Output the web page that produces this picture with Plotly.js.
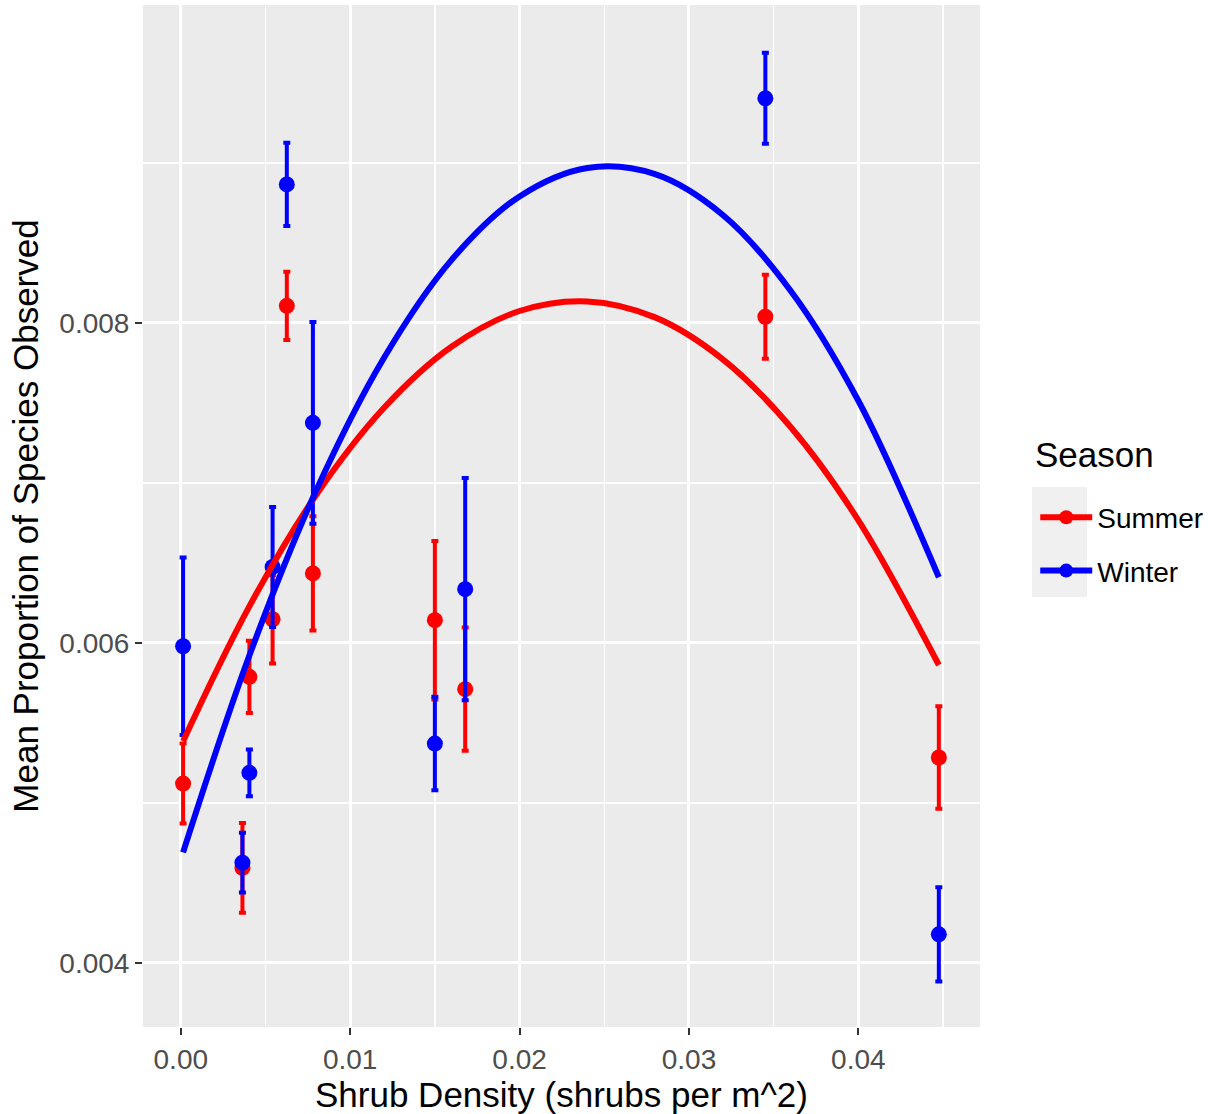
<!DOCTYPE html>
<html>
<head>
<meta charset="utf-8">
<script src="https://cdn.plot.ly/plotly-3.0.1.min.js"></script>
<style>html,body{margin:0;padding:0;background:#fff;}#chart{width:1219px;height:1114px;}</style>
</head>
<body>
<div id="chart"></div>
<script>
// Shrub density of each site (shrubs per m^2)
const density = [0.000136, 0.00364, 0.00405, 0.00542, 0.00626, 0.0078, 0.0150, 0.01679, 0.03451, 0.04475];
// Mean proportion of species observed and error half-widths
const summerMean = [0.005121, 0.004594, 0.005788, 0.006148, 0.008106, 0.006434, 0.006142, 0.005711, 0.008038, 0.005284];
const summerErr  = [0.000250, 0.000280, 0.000226, 0.000277, 0.000213, 0.000357, 0.000495, 0.000385, 0.000262, 0.000320];
const winterMean = [0.005979, 0.004627, 0.005188, 0.006475, 0.008865, 0.007375, 0.005371, 0.006336, 0.009403, 0.004179];
const winterErr  = [0.000555, 0.000186, 0.000146, 0.000375, 0.000260, 0.000630, 0.000292, 0.000695, 0.000284, 0.000294];
// Fitted (quadratic) smooth curves
const curveX      = [0.000136, 0.004, 0.008, 0.012, 0.016, 0.020, 0.024, 0.028, 0.032, 0.036, 0.040, 0.04475];
const summerCurve = [0.005386, 0.006219, 0.006926, 0.007469, 0.007852, 0.008074, 0.008134, 0.008034, 0.007772, 0.007349, 0.006766, 0.005862];
const winterCurve = [0.004691, 0.005907, 0.006954, 0.007782, 0.008395, 0.008790, 0.008968, 0.008929, 0.008674, 0.008201, 0.007513, 0.006410];
const seasons = ["Summer", "Winter"];
const colors = {Summer: "#FF0000", Winter: "#0000FF"};

const FONT = "Liberation Sans, Arial, Helvetica, sans-serif";

function pointTrace(name, mean, err) {
  return {
    type: "scatter", mode: "markers", name: name, x: density, y: mean,
    showlegend: false,
    marker: {color: colors[name], size: 16},
    error_y: {type: "data", array: err, visible: true, color: colors[name], thickness: 4, width: 3.5},
    hoverinfo: "x+y"
  };
}
function curveTrace(name, ys) {
  return {
    type: "scatter", mode: "lines", name: name, x: curveX, y: ys, showlegend: false,
    line: {color: colors[name], width: 6, shape: "spline"}, hoverinfo: "skip"
  };
}
function legendTrace(name) {
  return {
    type: "scatter", mode: "lines+markers", name: name, x: [null], y: [null],
    legendgroup: name, showlegend: true,
    line: {color: colors[name], width: 6}, marker: {color: colors[name], size: 14}
  };
}

const data = [
  pointTrace("Summer", summerMean, summerErr),
  pointTrace("Winter", winterMean, winterErr),
  curveTrace("Summer", summerCurve),
  curveTrace("Winter", winterCurve),
  legendTrace(seasons[0]),
  legendTrace(seasons[1])
];

const layout = {
  width: 1219, height: 1114,
  margin: {l: 143, r: 239, t: 5, b: 87, pad: 0},
  paper_bgcolor: "#FFFFFF",
  plot_bgcolor: "#EBEBEB",
  font: {family: FONT, size: 28, color: "#4D4D4D"},
  xaxis: {
    range: [-0.00223, 0.04718], dtick: 0.01, tick0: 0, tickformat: ".2f",
    showgrid: true, gridcolor: "#FFFFFF", gridwidth: 3, zeroline: false,
    ticks: "outside", ticklen: 7, tickwidth: 2, tickcolor: "#333333",
    tickfont: {family: FONT, size: 28, color: "#4D4D4D"},
    minor: {dtick: 0.005, showgrid: true, gridcolor: "#FFFFFF", gridwidth: 1.5},
    showline: false,
    title: {text: "Shrub Density (shrubs per m^2)", font: {family: FONT, size: 35, color: "#000000"}, standoff: 6}
  },
  yaxis: {
    range: [0.00360, 0.009986], dtick: 0.002, tick0: 0, tickformat: ".3f",
    showgrid: true, gridcolor: "#FFFFFF", gridwidth: 3, zeroline: false,
    ticks: "outside", ticklen: 7, tickwidth: 2, tickcolor: "#333333",
    tickfont: {family: FONT, size: 28, color: "#4D4D4D"},
    minor: {dtick: 0.001, showgrid: true, gridcolor: "#FFFFFF", gridwidth: 1.5},
    showline: false,
    title: {text: "Mean Proportion of Species Observed", font: {family: FONT, size: 35, color: "#000000"}, standoff: 10}
  },
  legend: {
    x: 1.066, y: 0.523, xanchor: "left", yanchor: "top",
    bgcolor: "rgba(0,0,0,0)", borderwidth: 0,
    font: {family: FONT, size: 28, color: "#000000"},
    itemwidth: 52,
    tracegroupgap: 14, itemclick: false, itemdoubleclick: false
  },
  annotations: [{
    text: "Season", xref: "paper", yref: "paper", x: 1.0633, y: 0.5597,
    xanchor: "left", yanchor: "middle", showarrow: false,
    font: {family: FONT, size: 35, color: "#000000"}
  }],
  shapes: [{
    type: "rect", xref: "paper", yref: "paper", x0: 1.0621, x1: 1.1278, y0: 0.4207, y1: 0.5284,
    fillcolor: "#F0F0F0", line: {width: 0}, layer: "below"
  }],
  showlegend: true
};

Plotly.newPlot("chart", data, layout, {displayModeBar: false, staticPlot: true});
</script>
</body>
</html>
